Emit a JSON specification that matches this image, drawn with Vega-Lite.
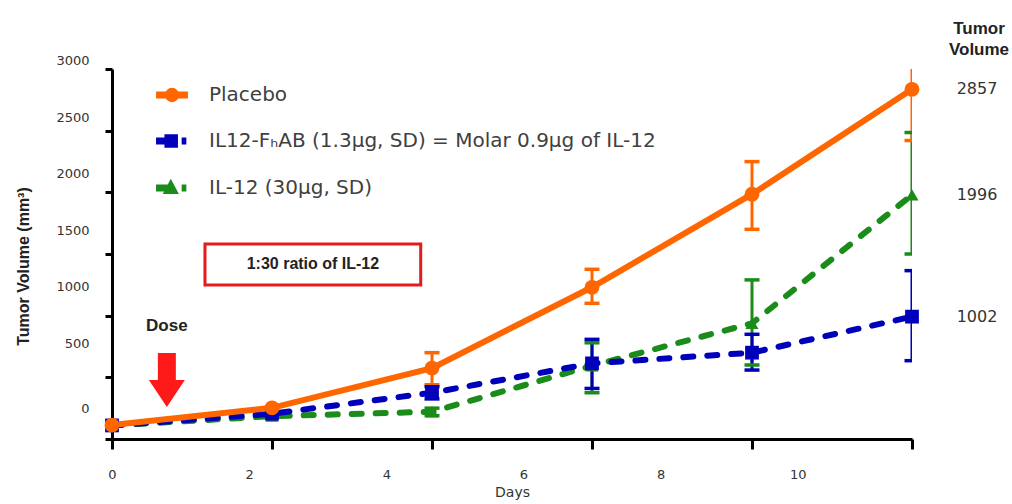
{
  "$schema": "https://vega.github.io/schema/vega-lite/v6.json",
  "width": 800,
  "height": 370,
  "autosize": {"type": "none"},
  "padding": {"left": 112, "top": 69, "right": 100, "bottom": 65},
  "background": "white",
  "config": {"font": "DejaVu Sans", "view": {"stroke": null}},
  "data": {
    "values": [
      {"series": "IL-12", "day": 0, "volume": 110, "lo": null, "hi": null},
      {"series": "IL-12", "day": 2.3333333, "volume": 185, "lo": null, "hi": null},
      {"series": "IL-12", "day": 4.6666667, "volume": 221, "lo": 190, "hi": 250},
      {"series": "IL-12", "day": 7, "volume": 594, "lo": 375, "hi": 780},
      {"series": "IL-12", "day": 9.3333333, "volume": 938, "lo": 600, "hi": 1290},
      {"series": "IL-12", "day": 11.6666667, "volume": 1979, "lo": 1500, "hi": 2485, "label": "1996"},
      {"series": "IL12-FHAB", "day": 0, "volume": 110, "lo": null, "hi": null},
      {"series": "IL12-FHAB", "day": 2.3333333, "volume": 205, "lo": null, "hi": null},
      {"series": "IL12-FHAB", "day": 4.6666667, "volume": 375, "lo": 325, "hi": 424},
      {"series": "IL12-FHAB", "day": 7, "volume": 613, "lo": 410, "hi": 808},
      {"series": "IL12-FHAB", "day": 9.3333333, "volume": 700, "lo": 559, "hi": 849},
      {"series": "IL12-FHAB", "day": 11.6666667, "volume": 992, "lo": 635, "hi": 1365, "label": "1002"},
      {"series": "Placebo", "day": 0, "volume": 113, "lo": null, "hi": null},
      {"series": "Placebo", "day": 2.3333333, "volume": 253, "lo": null, "hi": null},
      {"series": "Placebo", "day": 4.6666667, "volume": 575, "lo": 440, "hi": 700},
      {"series": "Placebo", "day": 7, "volume": 1230, "lo": 1100, "hi": 1376},
      {"series": "Placebo", "day": 9.3333333, "volume": 1985, "lo": 1700, "hi": 2249},
      {"series": "Placebo", "day": 11.6666667, "volume": 2835, "lo": 2420, "hi": 3250, "label": "2857"}
    ]
  },
  "layer": [
    {
      "mark": {"type": "rule", "strokeWidth": 3, "clip": true},
      "encoding": {
        "x": {
          "field": "day", "type": "quantitative",
          "scale": {"domain": [0, 11.6666667], "nice": false, "zero": false},
          "axis": {
            "values": [0, 2.3333333, 4.6666667, 7, 9.3333333, 11.6666667],
            "labelExpr": "'' + 2 * round(datum.value * 3 / 7)",
            "labelOffset": {"expr": "-22.857 * round(datum.value * 3 / 7)"},
            "labelFlush": false, "labelOverlap": false, "labelBound": false,
            "grid": false,
            "domainColor": "black", "domainWidth": 3,
            "tickColor": "black", "tickWidth": 3, "tickSize": 10,
            "labelFontSize": 13, "labelColor": "#333333", "labelPadding": 19,
            "title": "Days", "titleFontSize": 14, "titleFontWeight": "normal", "titleColor": "#333333", "titlePadding": 4
          }
        },
        "y": {
          "field": "lo", "type": "quantitative",
          "scale": {"domain": [0, 3000], "nice": false},
          "axis": {
            "values": [0, 500, 1000, 1500, 2000, 2500, 3000],
            "format": "d",
            "labelOffset": {"expr": "datum.value == 0 ? -31 : -8.3 - (3000 - datum.value) / 500 * 5.15"},
            "labelOverlap": false, "labelBound": false, "labelFlush": false,
            "grid": false,
            "domainColor": "black", "domainWidth": 3,
            "tickColor": "black", "tickWidth": 3, "tickSize": 7,
            "labelFontSize": 13, "labelColor": "#333333", "labelPadding": 16,
            "title": "Tumor Volume (mm³)", "titleFont": "Liberation Sans", "titleFontSize": 16, "titleFontWeight": "bold",
            "titleColor": "#222222", "titleAngle": -90, "titleX": -89, "titleY": 197, "titleAlign": "center", "titleBaseline": "middle"
          }
        },
        "y2": {"field": "hi"},
        "color": {
          "field": "series", "type": "nominal",
          "scale": {"domain": ["Placebo", "IL12-FHAB", "IL-12"], "range": ["#ff6600", "#0000bb", "#1a8c1a"]},
          "legend": {
            "orient": "none", "legendX": 50, "legendY": 16, "title": null,
            "labelFont": "DejaVu Sans", "labelFontSize": 20, "labelColor": "#404040", "labelLimit": 800,
            "symbolSize": 256, "labelOffset": 27, "rowPadding": 26, "symbolOpacity": 1,
            "labelExpr": "datum.value === 'Placebo' ? 'Placebo' : datum.value === 'IL-12' ? 'IL-12 (30µg, SD)' : 'IL12-FₕAB (1.3µg, SD) = Molar 0.9µg of IL-12'"
          }
        }
      }
    },
    {
      "mark": {"type": "tick", "orient": "horizontal", "size": 15, "thickness": 3.5, "opacity": 1, "clip": true},
      "encoding": {
        "x": {"field": "day", "type": "quantitative"},
        "y": {"field": "lo", "type": "quantitative"},
        "color": {"field": "series", "type": "nominal", "legend": null}
      }
    },
    {
      "mark": {"type": "tick", "orient": "horizontal", "size": 15, "thickness": 3.5, "opacity": 1, "clip": true},
      "encoding": {
        "x": {"field": "day", "type": "quantitative"},
        "y": {"field": "hi", "type": "quantitative"},
        "color": {"field": "series", "type": "nominal", "legend": null}
      }
    },
    {
      "transform": [{"filter": "datum.series !== 'Placebo'"}],
      "mark": {"type": "line", "strokeWidth": 6, "strokeDash": [10, 14], "strokeCap": "round"},
      "encoding": {
        "x": {"field": "day", "type": "quantitative"},
        "y": {"field": "volume", "type": "quantitative"},
        "color": {"field": "series", "type": "nominal", "legend": null}
      }
    },
    {
      "transform": [{"filter": "datum.series === 'Placebo'"}],
      "mark": {"type": "line", "strokeWidth": 6},
      "encoding": {
        "x": {"field": "day", "type": "quantitative"},
        "y": {"field": "volume", "type": "quantitative"},
        "color": {"field": "series", "type": "nominal", "legend": null}
      }
    },
    {
      "transform": [{"filter": "datum.series === 'IL-12'"}],
      "mark": {"type": "point", "filled": true, "opacity": 1, "shape": "triangle-up", "size": 170},
      "encoding": {
        "x": {"field": "day", "type": "quantitative"},
        "y": {"field": "volume", "type": "quantitative"},
        "color": {"field": "series", "type": "nominal", "legend": null}
      }
    },
    {
      "transform": [{"filter": "datum.series === 'IL12-FHAB'"}],
      "mark": {"type": "point", "filled": true, "opacity": 1, "shape": "square", "size": 190},
      "encoding": {
        "x": {"field": "day", "type": "quantitative"},
        "y": {"field": "volume", "type": "quantitative"},
        "color": {"field": "series", "type": "nominal", "legend": null}
      }
    },
    {
      "transform": [{"filter": "datum.series === 'Placebo'"}],
      "mark": {"type": "point", "filled": true, "opacity": 1, "shape": "circle", "size": 220},
      "encoding": {
        "x": {"field": "day", "type": "quantitative"},
        "y": {"field": "volume", "type": "quantitative"},
        "color": {"field": "series", "type": "nominal", "legend": null}
      }
    },
    {
      "mark": {"type": "point", "filled": true, "opacity": 0},
      "encoding": {
        "x": {"field": "day", "type": "quantitative"},
        "y": {"field": "volume", "type": "quantitative"},
        "color": {"field": "series", "type": "nominal", "legend": null},
        "shape": {
          "field": "series", "type": "nominal",
          "scale": {
            "domain": ["Placebo", "IL12-FHAB", "IL-12"],
            "range": [
              "M-1.9,-0.35H1.9V0.35H-1.9Z M0.8,0A0.8,0.8,0,1,1,-0.8,0A0.8,0.8,0,1,1,0.8,0Z",
              "M-1.9,-0.35H0V0.35H-1.9Z M-0.85,-0.75H0.65V0.75H-0.85Z M1.3,-0.35H1.7V0.35H1.3Z",
              "M-1.9,-0.35H-0.3V0.35H-1.9Z M-0.15,-0.95L0.7,0.65L-1,0.65Z M1.3,-0.35H1.7V0.35H1.3Z"
            ]
          },
          "legend": null
        }
      }
    },
    {
      "transform": [{"filter": "datum.label"}],
      "mark": {"type": "text", "dx": 65, "fontSize": 16, "color": "#333333", "align": "center", "baseline": "middle"},
      "encoding": {
        "x": {"field": "day", "type": "quantitative"},
        "y": {"field": "volume", "type": "quantitative"},
        "text": {"field": "label"}
      }
    },
    {
      "data": {"values": [{}]},
      "layer": [
        {
          "mark": {"type": "text", "text": "Dose", "font": "Liberation Sans", "fontWeight": "bold", "fontSize": 17, "color": "#222222", "align": "center", "baseline": "middle"},
          "encoding": {"x": {"datum": 0.8}, "y": {"datum": 916}}
        },
        {
          "mark": {"type": "point", "filled": true, "opacity": 1, "color": "#ff1a1a", "size": 2916, "strokeWidth": 0,
            "shape": "M-0.333,-1L0.333,-1L0.333,0L0.667,0L0,1L-0.667,0L-0.333,0Z"},
          "encoding": {"x": {"datum": 0.8}, "y": {"datum": 478}}
        },
        {
          "mark": {"type": "rect", "fill": "white", "stroke": "#e31b1b", "strokeWidth": 3},
          "encoding": {"x": {"datum": 1.356}, "x2": {"datum": 4.502}, "y": {"datum": 1581}, "y2": {"datum": 1249}}
        },
        {
          "mark": {"type": "text", "text": "1:30 ratio of IL-12", "font": "Liberation Sans", "fontWeight": "bold", "fontSize": 16, "color": "#222222", "align": "center", "baseline": "middle"},
          "encoding": {"x": {"datum": 2.93}, "y": {"datum": 1415}}
        },
        {
          "mark": {"type": "text", "text": ["Tumor", "Volume"], "font": "Liberation Sans", "fontWeight": "bold", "fontSize": 17, "lineHeight": 21, "color": "#222222", "align": "center", "baseline": "middle", "dx": 67, "dy": -40},
          "encoding": {"x": {"datum": 11.6666667}, "y": {"datum": 3000}}
        }
      ]
    }
  ]
}
